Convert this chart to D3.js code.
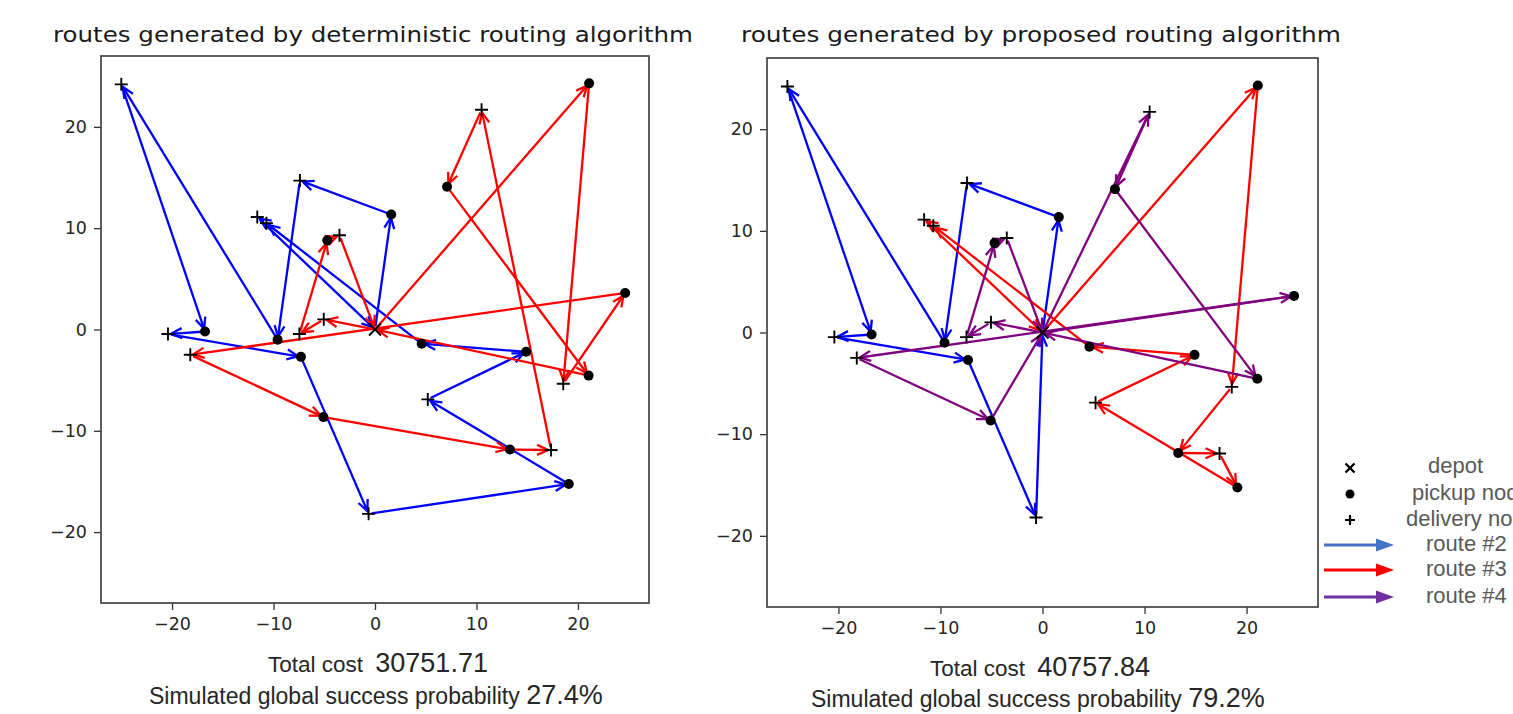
<!DOCTYPE html>
<html lang="en">
<head>
<meta charset="UTF-8">
<title>routes generated by deterministic vs proposed routing algorithm</title>
<script src="https://d3js.org/d3.v7.min.js"></script>
<style>
    body { margin: 0; background: #fff; }
    svg { display: block; }
    .tick text { font-family: "DejaVu Sans", sans-serif; font-size: 17.5px; fill: #262626; }
    .tick line { stroke: #333; stroke-width: 1.3; }
    .title { font-family: "DejaVu Sans", sans-serif; font-size: 22px; fill: #1a1a1a; text-anchor: middle; }
    .note { font-family: "Liberation Sans", Arial, sans-serif; fill: #262626; }
    .legend-text { font-family: "Liberation Sans", Arial, sans-serif; font-size: 22px; fill: #595959; }
</style>
</head>
<body>
<div id="chart"></div>
<script>
    // node coordinates
    const depot = [0, 0];
    const pickups = [
        [21.1, 24.3], [7.1, 14.1], [1.6, 11.35], [-4.7, 8.8], [-16.75, -0.2],
        [-9.6, -1.0], [-7.3, -2.7], [4.6, -1.4], [14.9, -2.2], [21.05, -4.55],
        [24.65, 3.6], [-5.08, -8.65], [13.3, -11.85], [19.1, -15.25]
    ];
    const deliveries = [
        [-25, 24.2], [10.5, 21.7], [-7.4, 14.7], [-11.6, 11.1], [-10.7, 10.5],
        [-3.5, 9.3], [-5.05, 1.0], [-7.45, -0.45], [-20.4, -0.45], [-18.2, -2.5],
        [18.55, -5.35], [5.2, -6.9], [17.35, -11.9], [-0.63, -18.2]
    ];

    // visiting order, o = depot, pN = pickup N, dN = delivery N
    const detBlue = ["o", "p2", "d2", "p5", "d0", "p4", "d8", "p6", "d13", "p13", "d11", "p8", "p7", "d4", "d3", "o"];
    const detRed = ["o", "p0", "d10", "p10", "d9", "p11", "p12", "d12", "d1", "p1", "p9", "o", "d6", "d7", "p3", "d5", "o"];
    const propBlue = ["o", "p2", "d2", "p5", "d0", "p4", "d8", "p6", "d13", "o"];
    const propRed = ["o", "p0", "d10", "p12", "d12", "p13", "d11", "p8", "p7", "d4", "d3", "o"];
    const propPurple = ["o", "p10", "d9", "p11", "o", "d1", "p1", "p9", "o", "d6", "d7", "p3", "d5", "o"];

    const ticks = [-20, -10, 0, 10, 20];
    const extent = [-27, 27];

    const legendLabels = ["depot", "pickup node", "delivery node", "route #2", "route #3", "route #4"];
    const legendColors = ["#4472C4", "#FF0000", "#7030A0"];

    const W = 1513, H = 714;
    const svg = d3.select("#chart").append("svg")
        .attr("width", W)
        .attr("height", H);

    function lookup(key) {
        if (key === "o") return depot;
        const i = +key.slice(1);
        return key[0] === "p" ? pickups[i] : deliveries[i];
    }

    function drawPanel(cfg) {
        const x = d3.scaleLinear().domain(extent).range([cfg.left, cfg.right]);
        const y = d3.scaleLinear().domain(extent).range([cfg.bottom, cfg.top]);
        const g = svg.append("g");

        // axes
        g.append("g")
            .attr("transform", `translate(0,${cfg.bottom})`)
            .call(d3.axisBottom(x).tickValues(ticks).tickSize(7).tickPadding(8))
            .call(a => a.select(".domain").remove());
        g.append("g")
            .attr("transform", `translate(${cfg.left},0)`)
            .call(d3.axisLeft(y).tickValues(ticks).tickSize(7).tickPadding(7))
            .call(a => a.select(".domain").remove());

        g.append("rect")
            .attr("x", cfg.left).attr("y", cfg.top)
            .attr("width", cfg.right - cfg.left)
            .attr("height", cfg.bottom - cfg.top)
            .attr("fill", "none")
            .attr("stroke", "#444")
            .attr("stroke-width", 1.7);

        // route arrows
        cfg.routes.forEach(r => {
            const pts = r.seq.map(k => { const p = lookup(k); return [x(p[0]), y(p[1])]; });
            for (let i = 0; i < pts.length - 1; i++) {
                const [x1, y1] = pts[i], [x2, y2] = pts[i + 1];
                const len = Math.hypot(x2 - x1, y2 - y1);
                const ux = (x2 - x1) / len, uy = (y2 - y1) / len;
                const sx = x1 + ux * 3, sy = y1 + uy * 3;
                const ex = x2 - ux * 3, ey = y2 - uy * 3;
                g.append("line")
                    .attr("x1", sx).attr("y1", sy)
                    .attr("x2", ex).attr("y2", ey)
                    .attr("stroke", r.color)
                    .attr("stroke-width", 2.3);
                const hl = 11, hw = 5;
                const bx = ex - ux * hl, by = ey - uy * hl;
                g.append("path")
                    .attr("d", `M${bx - uy * hw},${by + ux * hw}L${ex},${ey}L${bx + uy * hw},${by - ux * hw}`)
                    .attr("fill", "none")
                    .attr("stroke", r.color)
                    .attr("stroke-width", 2.3);
            }
        });

        // nodes
        g.selectAll(".pickup")
            .data(pickups)
            .enter().append("circle")
            .attr("cx", d => x(d[0]))
            .attr("cy", d => y(d[1]))
            .attr("r", 5)
            .attr("fill", "#000");

        g.selectAll(".delivery")
            .data(deliveries)
            .enter().append("path")
            .attr("d", d => `M${x(d[0]) - 6.5},${y(d[1])}h13M${x(d[0])},${y(d[1]) - 6.5}v13`)
            .attr("stroke", "#000")
            .attr("stroke-width", 1.9);

        g.append("path")
            .attr("d", `M${x(depot[0]) - 6},${y(depot[1]) - 6}l12,12M${x(depot[0]) - 6},${y(depot[1]) + 6}l12,-12`)
            .attr("stroke", "#000")
            .attr("stroke-width", 1.9);

        // title and notes
        g.append("text")
            .attr("class", "title")
            .attr("x", cfg.titleX).attr("y", 42)
            .attr("textLength", cfg.titleLen)
            .attr("lengthAdjust", "spacingAndGlyphs")
            .text(cfg.title);

        const t1 = g.append("text").attr("class", "note")
            .attr("x", cfg.costX).attr("y", cfg.costY);
        t1.append("tspan").attr("font-size", 22.5).text("Total cost ");
        t1.append("tspan").attr("font-size", 27).attr("dx", 6).text(cfg.cost);

        const t2 = g.append("text").attr("class", "note")
            .attr("x", cfg.probX).attr("y", cfg.probY);
        t2.append("tspan").attr("font-size", 23).text("Simulated global success probability ");
        t2.append("tspan").attr("font-size", 27).text(cfg.prob);
    }

    drawPanel({
        left: 101, right: 649, top: 56, bottom: 603,
        routes: [{ seq: detBlue, color: "#0000ff" }, { seq: detRed, color: "#ff0000" }],
        title: "routes generated by deterministic routing algorithm",
        titleX: 373, titleLen: 640,
        cost: "30751.71", costX: 268, costY: 672,
        prob: "27.4%", probX: 149, probY: 704
    });

    drawPanel({
        left: 767, right: 1318, top: 58, bottom: 607,
        routes: [{ seq: propBlue, color: "#0000ff" }, { seq: propRed, color: "#ff0000" }, { seq: propPurple, color: "#800080" }],
        title: "routes generated by proposed routing algorithm",
        titleX: 1041, titleLen: 600,
        cost: "40757.84", costX: 930, costY: 676,
        prob: "79.2%", probX: 811, probY: 707
    });

    // legend
    const lg = svg.append("g");
    const lx = 1350;
    lg.append("path")
        .attr("d", `M${lx - 4.5},463.5l9,9M${lx - 4.5},472.5l9,-9`)
        .attr("stroke", "#000").attr("stroke-width", 2.4);
    lg.append("circle").attr("cx", lx).attr("cy", 494).attr("r", 4.5).attr("fill", "#000");
    lg.append("path")
        .attr("d", `M${lx - 5},520h10M${lx},515v10`)
        .attr("stroke", "#000").attr("stroke-width", 2.2);

    const arrowY = [545, 570, 597];
    legendColors.forEach((c, i) => {
        const yy = arrowY[i];
        lg.append("line")
            .attr("x1", 1324).attr("y1", yy)
            .attr("x2", 1378).attr("y2", yy)
            .attr("stroke", c).attr("stroke-width", 3);
        lg.append("path")
            .attr("d", `M1394,${yy}L1376,${yy - 6.5}L1376,${yy + 6.5}Z`)
            .attr("fill", c);
    });

    const textX = [1428, 1412, 1406, 1426, 1426, 1426];
    const textY = [473, 500, 526, 551, 576, 603];
    legendLabels.forEach((t, i) => {
        lg.append("text")
            .attr("class", "legend-text")
            .attr("x", textX[i]).attr("y", textY[i])
            .text(t);
    });
</script>
</body>
</html>
